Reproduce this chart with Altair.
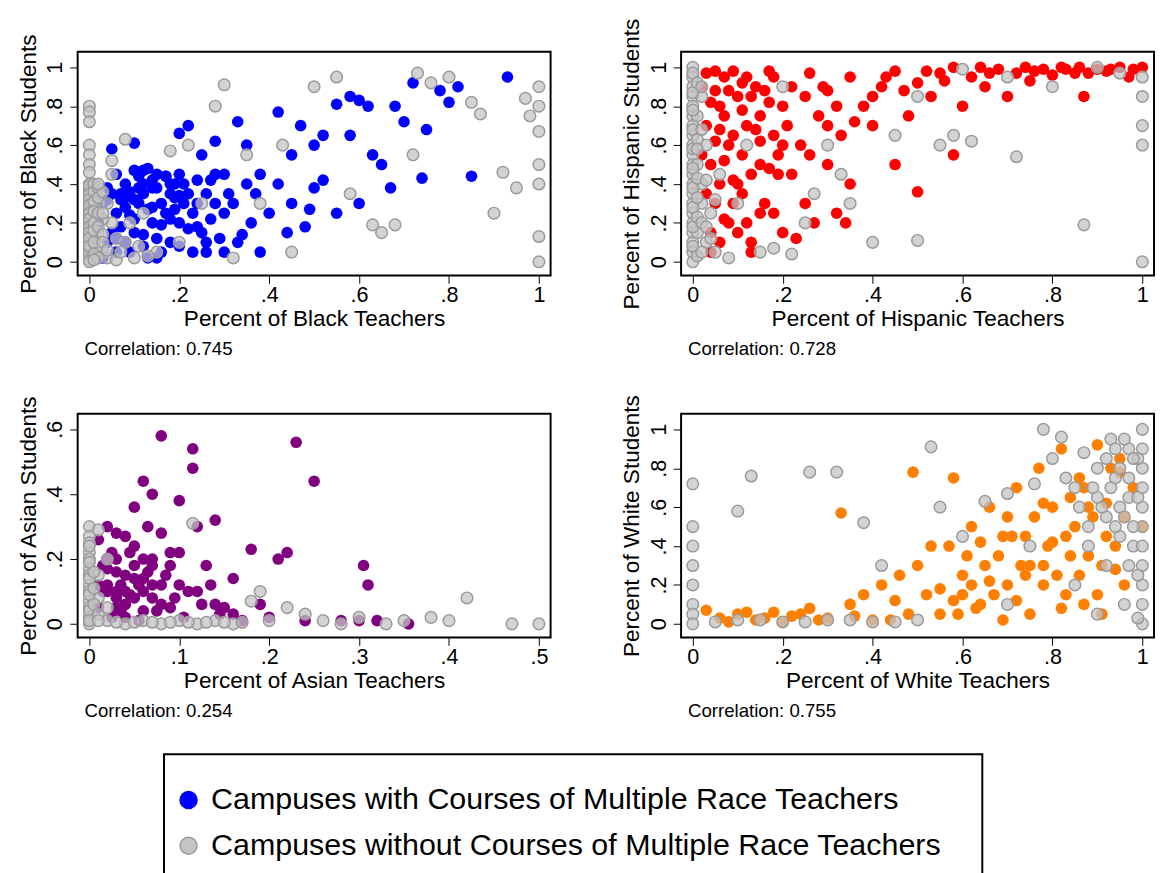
import pandas as pd
import altair as alt

# ---- Black panel ----
black_col_x = [0.05,0.1,0.12,0.15,0.18,0.2,0.22,0.25,0.28,0.3,0.33,0.35,0.38,0.42,0.45,0.47,0.5,0.52,0.55,0.58,0.6,0.62,0.65,0.68,0.7,0.72,0.75,0.78,0.8,0.82,0.85,0.93,0.74,0.67,0.6,0.55,0.48,0.5,0.45,0.4,0.42,0.36,0.33,0.3,0.28,0.25,0.22,0.2,0.18,0.16,0.14,0.12,0.1,0.08,0.06,0.04,0.03,0.09,0.15,0.2,0.24,0.27,0.31,0.35,0.38,0.13,0.17,0.11,0.07,0.05,0.19,0.23,0.26,0.29,0.58,0.63,0.52,0.44,0.49,0.02,0.04,0.06,0.08,0.1,0.12,0.14,0.03,0.07,0.11,
               0.05,0.07,0.09,0.11,0.13,0.15,0.17,0.19,0.21,0.23,0.06,0.08,0.1,0.12,0.14,0.16,0.18,0.2,0.22,0.24,0.26,0.04,0.06,0.09,0.12,0.15,0.18,0.21,0.24,0.27,0.3,0.13,0.16,0.19,0.1,0.08,0.14,0.17,0.2,0.32,0.34,0.37,0.26,0.28]
black_col_y = [0.58,0.61,0.47,0.45,0.4,0.66,0.7,0.55,0.62,0.45,0.72,0.6,0.45,0.77,0.55,0.7,0.6,0.42,0.81,0.85,0.83,0.8,0.5,0.8,0.72,0.92,0.68,0.88,0.82,0.9,0.44,0.95,0.43,0.38,0.3,0.25,0.18,0.38,0.3,0.25,0.4,0.2,0.1,0.05,0.3,0.15,0.35,0.2,0.1,0.3,0.2,0.35,0.15,0.4,0.25,0.1,0.3,0.05,0.02,0.45,0.42,0.22,0.35,0.4,0.05,0.48,0.25,0.38,0.18,0.35,0.33,0.05,0.35,0.12,0.65,0.55,0.65,0.15,0.27,0.2,0.32,0.12,0.28,0.22,0.08,0.38,0.02,0.35,0.3,
               0.15,0.32,0.24,0.44,0.27,0.38,0.44,0.27,0.3,0.25,0.05,0.1,0.32,0.14,0.42,0.19,0.35,0.08,0.17,0.3,0.1,0.38,0.45,0.36,0.4,0.12,0.22,0.4,0.18,0.42,0.25,0.02,0.05,0.4,0.47,0.33,0.28,0.44,0.34,0.3,0.14,0.35,0.05,0.45]
black_gry_x = [0,0,0,0,0,0,0,0,0,0,0,0,0,0,0,0,0,0,0,0,0,0.01,0.02,0.03,0.05,0.08,0.1,0.12,0.15,0.2,0.22,0.28,0.3,0.25,0.32,0.38,0.45,0.5,0.55,0.58,0.63,0.68,0.72,0.73,0.76,0.8,0.85,0.87,0.9,0.92,0.95,0.97,1,1,1,1,1,1,1,0.98,0.65,0.43,0.35,0.18,0.08,0.05,0.01,0.02,0.01,0.02,0.03,0.04,
               0,0,0,0,0,0,0,0,0,0,0.01,0.01,0.01,0.01,0.01,0.01,0.01,0.01,0.02,0.02,0.02,0.02,0.02,0.03,0.03,0.03,0.04,0.04,0.06,0.06,0.07,0.09,0.11,0.13,0.03,0.01,0.02,0.05]
black_gry_y = [0.8,0.77,0.72,0.6,0.55,0.5,0.46,0.4,0.37,0.34,0.3,0.27,0.24,0.2,0.17,0.14,0.1,0.07,0.04,0.01,0,0.35,0.15,0.05,0.2,0.1,0.02,0.25,0.05,0.1,0.6,0.8,0.91,0.3,0.02,0.3,0.05,0.9,0.95,0.35,0.19,0.19,0.55,0.97,0.92,0.95,0.82,0.76,0.25,0.46,0.38,0.84,0.9,0.8,0.67,0.5,0.4,0.13,0,0.75,0.15,0.6,0.55,0.57,0.63,0.45,0.28,0.08,0.12,0.3,0.22,0.02,
               0.39,0.35,0.32,0.29,0.25,0.22,0.18,0.15,0.12,0.08,0.4,0.36,0.31,0.26,0.2,0.16,0.1,0.04,0.38,0.33,0.25,0.18,0.02,0.36,0.14,0.1,0.3,0.06,0.01,0.12,0.05,0.2,0.08,0.03,0.25,0.01,0.4,0.52]

# ---- Hispanic panel ----
hisp_col_x = [0.02,0.03,0.04,0.05,0.06,0.07,0.08,0.1,0.1,0.12,0.12,0.14,0.15,0.16,0.18,0.18,0.2,0.2,0.22,0.22,0.24,0.25,0.26,0.28,0.3,0.3,0.32,0.33,0.35,0.35,0.38,0.4,0.42,0.45,0.45,0.48,0.5,0.5,0.53,0.55,0.58,0.6,0.62,0.65,0.68,0.7,0.72,0.75,0.78,0.8,0.82,0.85,0.87,0.9,0.92,0.95,0.97,1,0.04,0.08,0.13,0.19,0.27,0.34,0.23,0.11,0.15,0.06,0.09,0.17,0.58,0.64,0.74,0.86,0.98,0.4,0.3,0.25,0.03,0.05,0.07,0.09,0.11,0.13,0.02,0.04,0.06,
              0.03,0.05,0.07,0.09,0.11,0.13,0.15,0.17,0.19,0.21,0.04,0.06,0.08,0.1,0.12,0.14,0.16,0.18,0.2,0.05,0.07,0.09,0.11,0.13,0.15,0.17,0.26,0.29,0.32,0.36,0.43,0.47,0.52,0.56,0.66,0.76,0.83,0.88,0.93]
hisp_col_y = [0.9,0.7,0.5,0.3,0.1,0.95,0.6,0.85,0.4,0.2,0.7,0.9,0.5,0.3,0.95,0.65,0.8,0.15,0.45,0.9,0.6,0.3,0.97,0.75,0.5,0.88,0.25,0.65,0.95,0.4,0.8,0.7,0.9,0.98,0.5,0.75,0.36,0.92,0.85,0.97,0.55,0.8,0.95,0.9,0.99,0.85,0.97,0.93,0.99,0.96,1,0.97,0.85,0.99,0.98,1,0.95,1,0.05,0.2,0.05,0.45,0.2,0.2,0.12,0.55,0.75,0.8,0.98,0.98,1,1,1,1,0.99,0.85,0.7,0.85,0.35,0.62,0.22,0.42,0.78,0.1,0.55,0.82,0.68,
              0.97,0.88,0.75,0.65,0.92,0.45,0.62,0.82,0.55,0.7,0.15,0.4,0.88,0.15,0.95,0.68,0.88,0.25,0.6,0.98,0.52,0.3,0.35,0.85,0.25,0.48,0.55,0.9,0.8,0.72,0.95,0.88,0.98,0.93,0.97,0.98,0.99,0.97,0.99]
hisp_gry_x = [0,0,0,0,0,0,0,0,0,0,0,0,0,0,0,0,0,0,0,0,0,0.25,0.3,0.35,0.4,0.5,0.55,0.58,0.62,0.72,0.8,0.87,1,1,1,1,1,0.9,0.7,0.5,0.45,0.2,0.15,0.05,0.02,0.03,0.04,0.06,0.08,0.1,0.12,0.27,0.18,0.22,0.33,0.6,0.95,0.01,0.02,0.01,0.03,0.01,0.02,
              0,0,0,0,0,0,0,0,0,0,0.01,0.01,0.01,0.01,0.01,0.01,0.01,0.02,0.02,0.02,0.02,0.03,0.03,0.04,0.05]
hisp_gry_y = [1,0.95,0.9,0.85,0.8,0.75,0.7,0.65,0.6,0.55,0.5,0.45,0.4,0.35,0.3,0.25,0.2,0.15,0.1,0.05,0,0.2,0.6,0.3,0.1,0.11,0.6,0.65,0.62,0.54,0.9,0.19,0,0.6,0.7,0.85,0.95,1,0.95,0.85,0.65,0.9,0.05,0.05,0.4,0.6,0.25,0.45,0.02,0.3,0.6,0.35,0.07,0.04,0.45,0.99,0.97,0.15,0.3,0.5,0.1,0.75,0.85,
              0.97,0.87,0.78,0.68,0.58,0.48,0.38,0.28,0.18,0.08,0.92,0.63,0.43,0.33,0.23,0.03,0.58,0.2,0.05,0.68,0.9,0.42,0.18,0.12,0.32]

# ---- Asian panel ----
asian_col_x = [0.01,0.02,0.02,0.03,0.03,0.04,0.04,0.05,0.05,0.06,0.06,0.07,0.07,0.08,0.08,0.09,0.09,0.1,0.1,0.11,0.115,0.115,0.12,0.13,0.135,0.14,0.15,0.16,0.18,0.2,0.21,0.22,0.23,0.25,0.28,0.3,0.305,0.31,0.32,0.355,0.015,0.025,0.035,0.045,0.055,0.065,0.075,0.085,0.095,0.105,0.125,0.145,0.17,0.19,0.24,0.06,0.04,0.03,0.01,0.02,0.03,0.05,0.07,
               0.01,0.02,0.03,0.04,0.05,0.06,0.07,0.08,0.09,0.02,0.03,0.04,0.05,0.06,0.07,0.08,0.1,0.12,0.14,0.16,0.015,0.025,0.035,0.045,0.055,0.065]
asian_col_y = [0.26,0.3,0.1,0.2,0.05,0.15,0.27,0.36,0.08,0.44,0.2,0.4,0.12,0.58,0.28,0.05,0.18,0.38,0.22,0.1,0.54,0.48,0.3,0.18,0.12,0.32,0.05,0.14,0.23,0.02,0.2,0.22,0.56,0.44,0.01,0.01,0.18,0.12,0.01,0,0.18,0.02,0.12,0.22,0.01,0.3,0.04,0.15,0.08,0.02,0.06,0.03,0.01,0.06,0.01,0.1,0.06,0.28,0.12,0.17,0.08,0.24,0.2,
               0.05,0.12,0.16,0.1,0.18,0.14,0.08,0.12,0.22,0.2,0.1,0.02,0.14,0.04,0.18,0.06,0.12,0.1,0.06,0.03,0.1,0.22,0.04,0.09,0.12,0.16]
asian_gry_x = [0,0,0,0,0,0,0,0,0,0,0,0,0,0.01,0.02,0.04,0.06,0.08,0.1,0.115,0.12,0.14,0.16,0.18,0.19,0.2,0.22,0.24,0.26,0.28,0.3,0.33,0.35,0.38,0.4,0.42,0.47,0.5,0.01,0.02,0.01,0.02,
               0,0,0,0,0,0,0.005,0.005,0.005,0.01,0.01,0.03,0.05,0.07,0.09,0.11,0.13,0.15,0.17]
asian_gry_y = [0.3,0.27,0.25,0.22,0.2,0.17,0.15,0.12,0.1,0.07,0.05,0.02,0,0.29,0.01,0,0.01,0,0.01,0.31,0,0.01,0,0.07,0.1,0.01,0.05,0.03,0.01,0,0.02,0,0.01,0.02,0.01,0.08,0,0,0.15,0.05,0.08,0.2,
               0.19,0.14,0.09,0.04,0.01,0.24,0.11,0.06,0.16,0.03,0.01,0.005,0.005,0.005,0.005,0.005,0.005,0.005,0.005]

# ---- White panel ----
white_col_x = [0.03,0.06,0.1,0.14,0.18,0.22,0.26,0.3,0.33,0.35,0.38,0.4,0.42,0.45,0.48,0.49,0.5,0.52,0.55,0.57,0.58,0.6,0.62,0.64,0.66,0.68,0.7,0.72,0.74,0.75,0.77,0.78,0.8,0.82,0.83,0.85,0.86,0.88,0.9,0.91,0.92,0.94,0.95,0.96,0.98,1,0.59,0.65,0.71,0.76,0.81,0.87,0.69,0.53,0.46,0.44,0.08,0.12,0.16,0.2,0.24,0.28,0.36,0.62,0.67,0.73,0.79,0.84,0.89,0.93,
               0.55,0.58,0.61,0.63,0.66,0.69,0.72,0.75,0.78,0.8,0.82,0.84,0.86,0.88,0.9,0.92,0.94,0.96,0.6,0.64,0.7,0.74,0.78,0.83,0.87,0.91,0.95]
white_col_y = [0.07,0.03,0.05,0.02,0.06,0.04,0.08,0.03,0.57,0.1,0.15,0.02,0.2,0.12,0.05,0.78,0.3,0.15,0.05,0.4,0.75,0.25,0.5,0.1,0.6,0.35,0.2,0.7,0.45,0.05,0.8,0.3,0.6,0.9,0.15,0.5,0.75,0.35,0.92,0.05,0.62,0.4,0.85,0.2,0.7,0.5,0.05,0.3,0.45,0.55,0.25,0.1,0.02,0.4,0.25,0.02,0.01,0.06,0.03,0.01,0.05,0.02,0.04,0.2,0.15,0.3,0.4,0.65,0.55,0.8,
               0.18,0.12,0.35,0.08,0.22,0.45,0.12,0.3,0.2,0.42,0.08,0.35,0.25,0.6,0.15,0.45,0.28,0.55,0.15,0.42,0.55,0.25,0.62,0.45,0.7,0.3,0.78]
white_gry_x = [0,0,0,0,0,0,0,0,0.1,0.13,0.26,0.32,0.38,0.42,0.53,0.55,0.6,0.65,0.7,0.76,0.78,0.8,0.82,0.85,0.88,0.9,0.92,0.93,0.95,0.96,0.97,0.98,1,1,1,1,1,1,1,1,1,1,1,0.2,0.3,0.4,0.5,0.05,0.15,0.9,0.85,0.75,0.7,0.99,0.94,0.87,0.97,0.95,0.99,0.92,
               0.93,0.95,0.97,0.99,0.91,0.94,0.96,0.98,0.89,0.92,0.96,0.98,0.86,0.9,0.94,0.97,0.99,0.83,0.88,0.1,0.25,0.35,0.45]
white_gry_y = [0.72,0.5,0.4,0.3,0.2,0.1,0.05,0,0.58,0.76,0.78,0.78,0.52,0.3,0.91,0.6,0.45,0.63,0.67,0.72,1,0.85,0.96,0.7,0.5,0.8,0.3,0.95,0.6,0.1,0.9,0.4,1,0.9,0.8,0.7,0.6,0.5,0.4,0.3,0.2,0.1,0,0.01,0.02,0.01,0.02,0.01,0.02,0.05,0.2,0.4,0.1,0.03,0.75,0.88,0.65,0.45,0.85,0.55,
               0.7,0.8,0.75,0.65,0.6,0.9,0.55,0.85,0.7,0.85,0.95,0.5,0.6,0.65,0.5,0.3,0.25,0.75,0.4,0.02,0.01,0.02,0.01]

panels = [
    ("Black", black_col_x, black_col_y, black_gry_x, black_gry_y, "#0000ff", "Correlation: 0.745", [0, 1], [0, 1]),
    ("Hispanic", hisp_col_x, hisp_col_y, hisp_gry_x, hisp_gry_y, "#ff0000", "Correlation: 0.728", [0, 1], [0, 1]),
    ("Asian", asian_col_x, asian_col_y, asian_gry_x, asian_gry_y, "#800080", "Correlation: 0.254", [0, 0.5], [0, 0.6]),
    ("White", white_col_x, white_col_y, white_gry_x, white_gry_y, "#ff8000", "Correlation: 0.755", [0, 1], [0, 1]),
]

label_expr = "datum.value == 0 ? '0' : datum.value == 1 ? '1' : replace(format(datum.value, '.1f'), '0.', '.')"
FONT = "Arial"


def panel(race, cx, cy, gx, gy, color, corr, xr, yr):
    xpad = (xr[1] - xr[0]) * 0.026
    xdom = [xr[0] - xpad, xr[1] + xpad]
    ydom = [yr[0] - (yr[1] - yr[0]) * 0.07, yr[1] + (yr[1] - yr[0]) * 0.08]
    xstep = 0.1 if xr[1] == 0.5 else 0.2
    ystep = 0.2
    xt = [round(xr[0] + i * xstep, 2) for i in range(int(round((xr[1] - xr[0]) / xstep)) + 1)]
    yt = [round(yr[0] + i * ystep, 2) for i in range(int(round((yr[1] - yr[0]) / ystep)) + 1)]
    xs = alt.Scale(domain=xdom, nice=False, zero=False)
    ys = alt.Scale(domain=ydom, nice=False, zero=False)
    xax = alt.Axis(values=xt, labelExpr=label_expr, title=f"Percent of {race} Teachers",
                   grid=False, labelFontSize=22, titleFontSize=23, titleFontWeight="normal",
                   domain=False, tickSize=8, tickColor="black", labelColor="black", titleColor="black",
                   labelFont=FONT, titleFont=FONT, titlePadding=2)
    yax = alt.Axis(values=yt, labelExpr=label_expr, title=f"Percent of {race} Students",
                   grid=False, labelFontSize=22, titleFontSize=23, titleFontWeight="normal",
                   domain=False, tickSize=8, tickColor="black", labelColor="black", titleColor="black",
                   labelAngle=-90, labelAlign="center", labelBaseline="bottom", labelPadding=3,
                   labelFont=FONT, titleFont=FONT, titlePadding=4)
    dfc = pd.DataFrame({"x": cx, "y": cy})
    dfg = pd.DataFrame({"x": gx, "y": gy})
    col = alt.Chart(dfc).mark_circle(size=140, color=color, opacity=1).encode(
        x=alt.X("x:Q", scale=xs, axis=xax), y=alt.Y("y:Q", scale=ys, axis=yax))
    gry = alt.Chart(dfg).mark_point(filled=True, size=140, fill="#c4c4c4", fillOpacity=0.75,
                                    stroke="#9a9a9a", strokeWidth=1.5, shape="circle").encode(
        x="x:Q", y="y:Q")
    return alt.layer(col, gry).properties(
        width=482, height=228,
        title=alt.TitleParams(corr, orient="bottom", anchor="start", fontSize=19, dx=68,
                              fontWeight="normal", font=FONT, offset=10, color="black"))


charts = [panel(*p) for p in panels]
row1 = alt.hconcat(charts[0], charts[1], spacing=69)
row2 = alt.hconcat(charts[2], charts[3], spacing=69)
grid = alt.vconcat(row1, row2, spacing=34)

leg_label = ["Campuses with Courses of Multiple Race Teachers",
             "Campuses without Courses of Multiple Race Teachers"]
leg_df = pd.DataFrame({"label": leg_label, "row": [0, 1], "kind": ["with", "without"]})
leg_box = alt.Chart(pd.DataFrame({"k": [0]})).mark_rect(
    fill="white", stroke="black", strokeWidth=2).encode(
    x=alt.value(88), x2=alt.value(922), y=alt.value(0), y2=alt.value(140))
leg_pts = alt.Chart(leg_df).mark_point(filled=True, size=300, shape="circle", strokeWidth=1.5, opacity=1).encode(
    x=alt.value(113), y=alt.Y("row:O", axis=None, scale=alt.Scale(padding=1.07)),
    fill=alt.Fill("kind:N", scale=alt.Scale(domain=["with", "without"], range=["#0000ff", "#c4c4c4"]), legend=None),
    stroke=alt.Stroke("kind:N", scale=alt.Scale(domain=["with", "without"], range=["#0000ff", "#9a9a9a"]), legend=None))
leg_txt = alt.Chart(leg_df).mark_text(align="left", fontSize=31, font=FONT, color="black").encode(
    x=alt.value(136), y=alt.Y("row:O", axis=None), text="label:N")
legend = alt.layer(leg_box, leg_pts, leg_txt).properties(
    width=1000, height=140, view=alt.ViewConfig(strokeOpacity=0))

chart = alt.vconcat(grid, legend, spacing=32).properties(
    padding={"top": 0, "left": 8, "right": 0, "bottom": 0}, background="white"
).configure_view(stroke="black", strokeWidth=2)
chart.save("out.html", embed_options={"renderer": "svg", "actions": False})
